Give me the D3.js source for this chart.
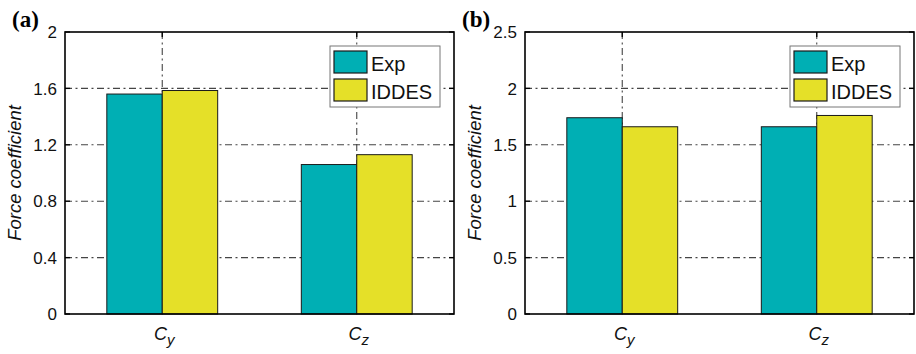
<!DOCTYPE html>
<html>
<head>
<meta charset="utf-8">
<script src="https://cdn.jsdelivr.net/npm/d3@7"></script>
<style>
  body { margin: 0; background: #fff; }
  svg { display: block; font-family: Arial, "Liberation Sans", sans-serif; }
</style>
</head>
<body>
<svg id="chart" width="916" height="354"></svg>
<script>
// data
const categories = ['C', 'C'];
const subscripts = ['y', 'z'];
const seriesNames = ['Exp', 'IDDES'];
const seriesColors = ['#00afb4', '#e5e028'];

const expA = [1.56, 1.06];
const iddesA = [1.585, 1.13];
const expB = [1.74, 1.66];
const iddesB = [1.66, 1.76];

const ticksA = [0, 0.4, 0.8, 1.2, 1.6, 2];
const ticksB = [0, 0.5, 1, 1.5, 2, 2.5];

const svg = d3.select('#chart');

const panels = [
  { tag: '(a)', tagX: 12, left: 65, right: 454, values: [expA, iddesA], ticks: ticksA, ymax: 2, fmt: (d) => (d === 0 || d === 2 ? d : d.toFixed(1)) },
  { tag: '(b)', tagX: 462, left: 525, right: 914, values: [expB, iddesB], ticks: ticksB, ymax: 2.5, fmt: (d) => String(d) },
];

const plotTop = 32;
const plotBottom = 314;
const barW = 0.285; // in x units, matlab grouped bar look
const gridDash = '7,3.5,2,3.5';

panels.forEach((p) => {
  const g = svg.append('g');
  const x = d3.scaleLinear().domain([0.5, 2.5]).range([p.left, p.right]);
  const y = d3.scaleLinear().domain([0, p.ymax]).range([plotBottom, plotTop]);

  // grid
  g.selectAll('.hgrid')
    .data(p.ticks.slice(1, -1))
    .join('line')
    .attr('x1', p.left).attr('x2', p.right)
    .attr('y1', (d) => y(d)).attr('y2', (d) => y(d))
    .attr('stroke', '#444').attr('stroke-width', 1.1)
    .attr('stroke-dasharray', gridDash);

  g.selectAll('.vgrid')
    .data(categories)
    .join('line')
    .attr('x1', (d, i) => x(i + 1)).attr('x2', (d, i) => x(i + 1))
    .attr('y1', plotTop).attr('y2', plotBottom)
    .attr('stroke', '#444').attr('stroke-width', 1.1)
    .attr('stroke-dasharray', gridDash);

  // bars
  p.values.forEach((vals, s) => {
    g.selectAll(`.bar${s}`)
      .data(vals)
      .join('rect')
      .attr('x', (d, i) => x(i + 1 + (s - 1) * barW))
      .attr('width', x(1 + barW) - x(1))
      .attr('y', (d) => y(d))
      .attr('height', (d) => y(0) - y(d))
      .attr('fill', seriesColors[s])
      .attr('stroke', '#1a1a1a')
      .attr('stroke-width', 1);
  });

  // box with inward ticks
  g.append('rect')
    .attr('x', p.left).attr('y', plotTop)
    .attr('width', p.right - p.left).attr('height', plotBottom - plotTop)
    .attr('fill', 'none').attr('stroke', '#000').attr('stroke-width', 1.6);

  const tk = 5;
  p.ticks.forEach((t) => {
    g.append('line').attr('x1', p.left).attr('x2', p.left + tk)
      .attr('y1', y(t)).attr('y2', y(t)).attr('stroke', '#000').attr('stroke-width', 1.3);
    g.append('line').attr('x1', p.right - tk).attr('x2', p.right)
      .attr('y1', y(t)).attr('y2', y(t)).attr('stroke', '#000').attr('stroke-width', 1.3);
  });
  categories.forEach((c, i) => {
    g.append('line').attr('x1', x(i + 1)).attr('x2', x(i + 1))
      .attr('y1', plotTop).attr('y2', plotTop + tk).attr('stroke', '#000').attr('stroke-width', 1.3);
  });

  // tick labels
  g.selectAll('.ylab')
    .data(p.ticks)
    .join('text')
    .attr('x', p.left - 8)
    .attr('y', (d) => y(d))
    .attr('dy', '0.36em')
    .attr('text-anchor', 'end')
    .attr('font-size', 17)
    .attr('fill', '#111')
    .text(p.fmt);

  // category labels
  const xl = g.selectAll('.xlab')
    .data(categories)
    .join('text')
    .attr('x', (d, i) => x(i + 1) + 2)
    .attr('y', 340)
    .attr('text-anchor', 'middle')
    .attr('font-size', 18)
    .attr('font-style', 'italic')
    .attr('fill', '#111');
  xl.append('tspan').text((d) => d);
  xl.append('tspan')
    .attr('dy', 5)
    .attr('font-size', 15)
    .text((d, i) => subscripts[i]);

  // axis title
  g.append('text')
    .attr('transform', `translate(${p.left - 44},${(plotTop + plotBottom) / 2}) rotate(-90)`)
    .attr('text-anchor', 'middle')
    .attr('font-size', 18.5)
    .attr('font-style', 'italic')
    .attr('fill', '#111')
    .text('Force coefficient');

  // panel tag
  g.append('text')
    .attr('x', p.tagX)
    .attr('y', 27)
    .attr('font-family', '"Liberation Serif", "Times New Roman", serif')
    .attr('font-weight', 'bold')
    .attr('font-size', 23)
    .text(p.tag);

  // legend
  const lx = p.right - 124;
  const ly = 46;
  const lg = g.append('g');
  lg.append('rect')
    .attr('x', lx).attr('y', ly).attr('width', 110).attr('height', 61)
    .attr('fill', '#fff').attr('stroke', '#777').attr('stroke-width', 1);
  seriesNames.forEach((name, s) => {
    lg.append('rect')
      .attr('x', lx + 4).attr('y', ly + 5 + s * 28)
      .attr('width', 33).attr('height', 22)
      .attr('fill', seriesColors[s]).attr('stroke', '#1a1a1a').attr('stroke-width', 1.2);
    lg.append('text')
      .attr('x', lx + 41).attr('y', ly + 25 + s * 28)
      .attr('font-size', 20)
      .attr('fill', '#111')
      .text(name);
  });
});
</script>
</body>
</html>
